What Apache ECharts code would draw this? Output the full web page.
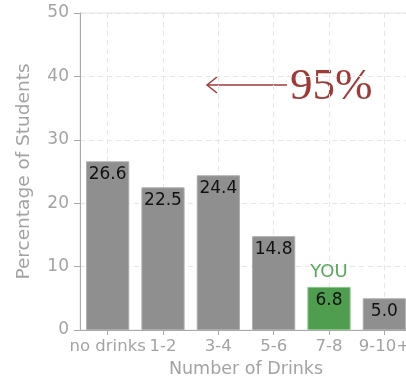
<!DOCTYPE html>
<html>
<head>
<meta charset="utf-8">
<script src="https://cdn.jsdelivr.net/npm/echarts@6/dist/echarts.min.js"></script>
<style>
  html, body { margin: 0; padding: 0; background: #ffffff; }
  #chart { width: 406px; height: 383px; }
</style>
</head>
<body>
<div id="chart"></div>
<script>
// Drinks per occasion and the share of students reporting each amount
var categories = ['no drinks', '1-2', '3-4', '5-6', '7-8', '9-10+'];
var percentages = [26.6, 22.5, 24.4, 14.8, 6.8, 5.0];
var yTicks = [0, 10, 20, 30, 40, 50];
var highlightCategory = '7-8';
var highlightLabel = 'YOU';
var annotationText = '95%';

var FONT = '"DejaVu Sans", Verdana, sans-serif';
var GRAY = '#8f8f8f';
var GREEN = '#4f9d4f';
var AXIS_TEXT = '#a3a3a3';

var barData = percentages.map(function (v, i) {
  var isYou = categories[i] === highlightCategory;
  return {
    value: v,
    itemStyle: isYou
      ? { color: GREEN, borderColor: '#86c486', borderWidth: 1 }
      : { color: GRAY, borderColor: '#ababab', borderWidth: 1 }
  };
});

var chart = echarts.init(document.getElementById('chart'), null, { renderer: 'canvas' });

chart.setOption({
  animation: false,
  backgroundColor: '#ffffff',
  grid: {
    left: 80, top: 13, width: 332, height: 317,
    show: true, borderColor: '#e4e4e4', borderWidth: 1,
    containLabel: false,
    outerBoundsMode: 'none'
  },
  xAxis: {
    type: 'category',
    data: categories,
    name: 'Number of Drinks',
    nameLocation: 'middle',
    nameGap: 30,
    nameTextStyle: { color: AXIS_TEXT, fontFamily: FONT, fontSize: 17.5 },
    axisLine: { lineStyle: { color: '#a9a9a9', width: 1 } },
    axisTick: { show: true, alignWithLabel: true, length: 5, lineStyle: { color: '#a9a9a9' } },
    axisLabel: { color: AXIS_TEXT, fontFamily: FONT, fontSize: 16.5, margin: 8, interval: 0, hideOverlap: false },
    splitLine: { show: true, alignWithLabel: true, lineStyle: { color: '#e6e6e6', type: [5, 4] } }
  },
  yAxis: {
    type: 'value',
    min: yTicks[0],
    max: yTicks[yTicks.length - 1],
    interval: 10,
    name: 'Percentage of Students',
    nameLocation: 'middle',
    nameGap: 46,
    nameTextStyle: { color: AXIS_TEXT, fontFamily: FONT, fontSize: 18.5 },
    axisLine: { show: true, lineStyle: { color: '#a9a9a9', width: 1 } },
    axisTick: { show: true, length: 6, lineStyle: { color: '#a9a9a9' } },
    axisLabel: { color: AXIS_TEXT, fontFamily: FONT, fontSize: 17, margin: 11 },
    splitLine: { show: true, lineStyle: { color: '#e6e6e6', type: [5, 4] } }
  },
  series: [{
    type: 'bar',
    data: barData,
    barCategoryGap: '22%',
    label: {
      show: true,
      position: 'insideTop',
      distance: 5,
      color: '#111111',
      fontFamily: FONT,
      fontSize: 17,
      formatter: function (p) { return p.value.toFixed(1); }
    },
    markPoint: {
      silent: true,
      symbol: 'circle',
      symbolSize: 0,
      data: [{
        coord: [highlightCategory, percentages[categories.indexOf(highlightCategory)]],
        label: {
          show: true,
          position: 'top',
          distance: 6,
          formatter: highlightLabel,
          color: '#5aa65a',
          fontFamily: FONT,
          fontSize: 18
        }
      }]
    }
  }],
  graphic: [
    {
      type: 'polyline',
      shape: { points: [[287, 85], [207, 85]] },
      style: { stroke: '#a03a37', lineWidth: 1.5, fill: null }
    },
    {
      type: 'polyline',
      shape: { points: [[217, 77], [207, 85], [217, 93]] },
      style: { stroke: '#a03a37', lineWidth: 1.5, fill: null }
    },
    {
      type: 'text',
      x: 290, y: 87,
      style: {
        text: annotationText,
        fill: '#a03a37',
        font: '45px "Liberation Serif", "DejaVu Serif", serif',
        verticalAlign: 'middle',
        align: 'left'
      }
    }
  ]
});
</script>
</body>
</html>
